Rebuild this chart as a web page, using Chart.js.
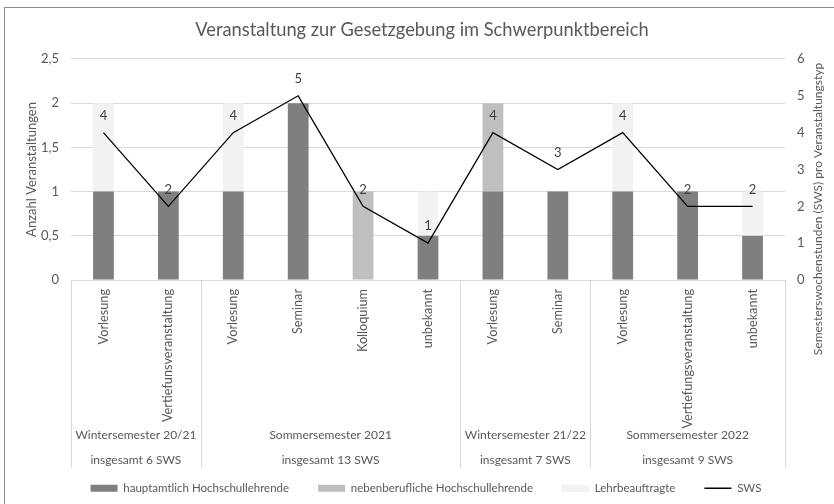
<!DOCTYPE html>
<html><head><meta charset="utf-8">
<script src="https://cdn.jsdelivr.net/npm/chart.js@4/dist/chart.umd.min.js"></script>
<style>html,body{margin:0;padding:0;background:#fff}#wrap{width:834px;height:504px;position:relative}</style>
</head><body><div id="wrap"><canvas id="c" width="834" height="504"></canvas></div>
<script>
const categories = ["Vorlesung","Vertiefunsveranstaltung","Vorlesung","Seminar","Kolloquium","unbekannt","Vorlesung","Seminar","Vorlesung","Vertiefungsveranstaltung","unbekannt"];
const hauptamtlich = [1,1,1,2,0,0.5,1,1,1,1,0.5];
const nebenberuflich = [0,0,0,0,1,0,1,0,0,0,0];
const lehrbeauftragte = [1,0,1,0,0,0.5,0,0,1,0,0.5];
const sws = [4,2,4,5,2,1,4,3,4,2,2];
const groupNames = ["Wintersemester 20/21","Sommersemester 2021","Wintersemester 21/22","Sommersemester 2022"];
const groupTotals = ["insgesamt 6 SWS","insgesamt 13 SWS","insgesamt 7 SWS","insgesamt 9 SWS"];
const groupSizes = [2,4,2,3];
const leftTicks = [0,0.5,1,1.5,2,2.5];
const rightTicks = [0,1,2,3,4,5,6];

const FONT = "Lato";
const TXT = "#595959";
Chart.defaults.font.family = FONT;
Chart.defaults.color = TXT;

const framePlugin = {
  id: 'frame',
  beforeDraw(chart) {
    const ctx = chart.ctx;
    ctx.save();
    ctx.fillStyle = '#fff';
    ctx.fillRect(0,0,chart.width,chart.height);
    ctx.strokeStyle = '#8c8c8c';
    ctx.lineWidth = 1;
    ctx.strokeRect(4.5, 7.5, 900, 600);
    ctx.restore();
  },
  afterLayout(chart) {
    chart.legend.left += 9; chart.legend.right += 9;
    chart.titleBlock.left += 5; chart.titleBlock.right += 5;
  }
};

const extrasPlugin = {
  id: 'extras',
  afterDraw(chart) {
    const ctx = chart.ctx;
    const xs = chart.scales.x;
    const ca = chart.chartArea;
    ctx.save();
    ctx.strokeStyle = '#d9d9d9';
    ctx.lineWidth = 1;
    let start = 0;
    const bounds = [xs.getPixelForValue(-0.5)];
    groupSizes.forEach(n => { start += n; bounds.push(xs.getPixelForValue(start - 0.5)); });
    bounds.forEach(b => {
      const bx = Math.round(b) + 0.5;
      ctx.beginPath(); ctx.moveTo(bx, ca.bottom); ctx.lineTo(bx, ca.bottom + 188); ctx.stroke();
    });
    ctx.fillStyle = TXT;
    ctx.font = "12px " + FONT;
    ctx.textAlign = 'center';
    ctx.textBaseline = 'middle';
    for (let g = 0; g < groupNames.length; g++) {
      const cx = (bounds[g] + bounds[g+1]) / 2;
      ctx.fillText(groupNames[g], cx, ca.bottom + 155);
      ctx.fillText(groupTotals[g], cx, ca.bottom + 180);
    }
    ctx.save();
    ctx.font = "12px " + FONT;
    ctx.translate(818, 209);
    ctx.rotate(-Math.PI / 2);
    ctx.fillText("Semesterswochenstunden (SWS) pro Veranstaltungstyp", 0, 0);
    ctx.restore();
    ctx.restore();
  },
  afterDatasetsDraw(chart) {
    const ctx = chart.ctx;
    const idx = chart.data.datasets.findIndex(d => d.type === 'line');
    const meta = chart.getDatasetMeta(idx);
    ctx.save();
    ctx.fillStyle = '#404040';
    ctx.font = "13px " + FONT;
    ctx.textAlign = 'center';
    ctx.textBaseline = 'middle';
    meta.data.forEach((pt, i) => {
      ctx.fillText(String(sws[i]), pt.x, pt.y - 17);
    });
    ctx.restore();
  }
};

new Chart(document.getElementById('c'), {
  data: {
    labels: categories,
    datasets: [
      { type: 'bar', label: 'hauptamtlich Hochschullehrende', data: hauptamtlich, backgroundColor: '#7f7f7f', yAxisID: 'y', stack: 's', categoryPercentage: 1, barPercentage: 0.32 },
      { type: 'bar', label: 'nebenberufliche Hochschullehrende', data: nebenberuflich, backgroundColor: '#bfbfbf', yAxisID: 'y', stack: 's', categoryPercentage: 1, barPercentage: 0.32 },
      { type: 'bar', label: 'Lehrbeauftragte', data: lehrbeauftragte, backgroundColor: '#f2f2f2', yAxisID: 'y', stack: 's', categoryPercentage: 1, barPercentage: 0.32 },
      { type: 'line', label: 'SWS', data: sws, borderColor: '#000', backgroundColor: '#000', borderWidth: 1.3, pointRadius: 0, tension: 0, yAxisID: 'y2', order: -1 }
    ]
  },
  options: {
    responsive: false,
    animation: false,
    devicePixelRatio: 1,
    layout: { padding: 0 },
    plugins: {
      tooltip: { enabled: false },
      title: {
        display: true,
        text: 'Veranstaltung zur Gesetzgebung im Schwerpunktbereich',
        font: { size: 18.3, weight: 'normal' },
        color: TXT,
        padding: { top: 19, bottom: 18 }
      },
      legend: {
        position: 'bottom',
        labels: {
          usePointStyle: true,
          pointStyleWidth: 27,
          boxHeight: 7,
          padding: 29,
          font: { size: 11.5 },
          color: TXT,
          sort: (a, b) => a.datasetIndex - b.datasetIndex,
          generateLabels(chart) {
            const items = Chart.defaults.plugins.legend.labels.generateLabels(chart);
            items.forEach(it => {
              const ds = chart.data.datasets[it.datasetIndex];
              if (ds.type === 'line') { it.pointStyle = 'line'; it.strokeStyle = '#000'; it.lineWidth = 1.3; }
              else { it.pointStyle = 'rect'; it.lineWidth = 0; it.strokeStyle = ds.backgroundColor; }
            });
            return items;
          }
        }
      }
    },
    scales: {
      x: {
        stacked: true,
        grid: { display: false, drawTicks: false },
        border: { display: true, color: '#d9d9d9' },
        ticks: { minRotation: 90, maxRotation: 90, autoSkip: false, padding: 9, font: { size: 12.7 }, color: TXT },
        afterFit(s) { s.height = s.chart.height - s.chart.legend.height - 280; }
      },
      y: {
        position: 'left',
        stacked: true,
        min: 0, max: 2.5,
        afterBuildTicks(s) { s.ticks = leftTicks.map(v => ({ value: v })); },
        grid: { color: '#d9d9d9', drawTicks: false },
        border: { display: false },
        ticks: { padding: 12, font: { size: 13 }, color: TXT, callback: v => String(v).replace('.', ',') },
        title: { display: true, text: 'Anzahl Veranstaltungen', font: { size: 13 }, color: TXT, padding: { top: 24, bottom: 0 } },
        afterFit(s) { s.width = 71; }
      },
      y2: {
        position: 'right',
        min: 0, max: 6,
        afterBuildTicks(s) { s.ticks = rightTicks.map(v => ({ value: v })); },
        grid: { display: false, drawTicks: false },
        border: { display: false },
        ticks: { padding: 12, font: { size: 13 }, color: TXT },
        afterFit(s) { s.width = 49; }
      }
    }
  },
  plugins: [framePlugin, extrasPlugin]
});
</script>
</body></html>
